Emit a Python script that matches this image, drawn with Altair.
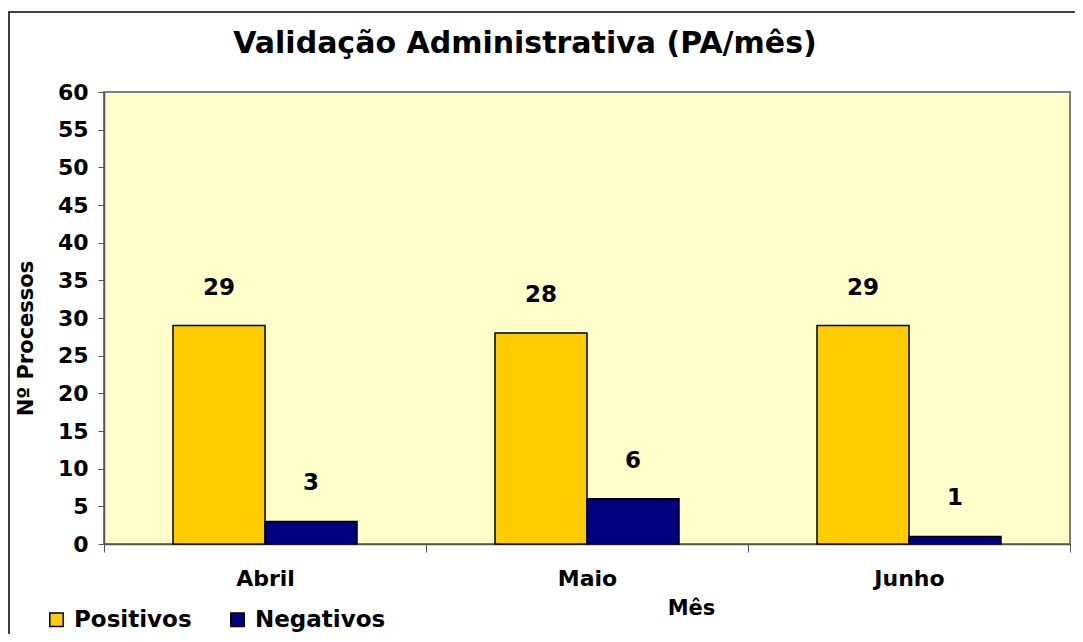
import altair as alt
import pandas as pd

months = ["Abril", "Maio", "Junho"]
series = ["Positivos", "Negativos"]
positivos = [29, 28, 29]
negativos = [3, 6, 1]
y_ticks = list(range(0, 61, 5))

rows = []
for m, p, n in zip(months, positivos, negativos):
    rows.append({"Mês": m, "Série": "Positivos", "Valor": p})
    rows.append({"Mês": m, "Série": "Negativos", "Valor": n})
df = pd.DataFrame(rows)

FONT = "DejaVu Sans"

base = alt.Chart(df).encode(
    x=alt.X(
        "Mês:N",
        sort=months,
        scale=alt.Scale(paddingInner=0, paddingOuter=0),
        axis=alt.Axis(
            title="Mês",
            labelAngle=0,
            labelFont=FONT,
            labelFontWeight="bold",
            labelFontSize=22,
            labelColor="black",
            labelPadding=16,
            tickBand="extent",
            tickSize=8,
            tickColor="#555555",
            domainColor="#555555",
            domainWidth=1.5,
            titleFont=FONT,
            titleFontWeight="bold",
            titleFontSize=21,
            titleColor="black",
            titleX=587,
            titleY=64,
            titleAlign="center",
            titleBaseline="middle",
        ),
    ),
    xOffset=alt.XOffset(
        "Série:N",
        sort=series,
        scale=alt.Scale(paddingInner=0, paddingOuter=0.75),
    ),
    y=alt.Y(
        "Valor:Q",
        scale=alt.Scale(domain=[0, 60], nice=False),
        axis=alt.Axis(
            title="Nº Processos",
            values=y_ticks,
            grid=False,
            labelFont=FONT,
            labelFontWeight="bold",
            labelFontSize=22,
            labelColor="black",
            labelPadding=10,
            tickSize=6,
            tickColor="#555555",
            domainColor="#555555",
            domainWidth=1.5,
            titleFont=FONT,
            titleFontWeight="bold",
            titleFontSize=21,
            titleColor="black",
            titleX=-78,
            titleY=246,
            titleAngle=-90,
            titleAlign="center",
            titleBaseline="middle",
        ),
    ),
)

bars = base.mark_bar(stroke="black", strokeWidth=1.5).encode(
    color=alt.Color(
        "Série:N",
        sort=series,
        scale=alt.Scale(domain=series, range=["#FFCC00", "#000080"]),
        legend=alt.Legend(
            title=None,
            orient="none",
            direction="horizontal",
            legendX=-59,
            legendY=516,
            padding=0,
            symbolType="square",
            symbolSize=180,
            symbolStrokeColor="black",
            symbolStrokeWidth=1.5,
            symbolOpacity=1,
            labelFont=FONT,
            labelFontWeight="bold",
            labelFontSize=23,
            labelColor="black",
            labelOffset=6,
            columnPadding=34,
        ),
    )
)

labels = base.mark_text(
    dy=-38, baseline="middle", font=FONT, fontWeight="bold", fontSize=23, color="black"
).encode(text="Valor:Q")

frame = alt.Chart(pd.DataFrame({"f": [0]})).mark_rect(
    fill="white", fillOpacity=0, stroke="black", strokeWidth=1.5
).encode(
    x=alt.value(-95), x2=alt.value(1200), y=alt.value(-80), y2=alt.value(800)
)

chart = (
    alt.layer(frame, bars, labels)
    .properties(
        width=966,
        height=452,
        background="white",
        autosize=alt.AutoSizeParams(type="none"),
        padding={"left": 96, "top": 84, "right": 5, "bottom": 90},
        title=alt.TitleParams(
            "Validação Administrativa (PA/mês)",
            font=FONT,
            fontWeight="bold",
            fontSize=30,
            color="black",
            anchor="middle",
            frame="group",
            dx=-62,
            offset=0,
            dy=72,
            baseline="alphabetic",
        ),
    )
    .configure_view(fill="#FFFFCC", stroke="#808080", strokeWidth=2)
)

chart.save("out.html", embed_options={"renderer": "svg", "actions": False})
